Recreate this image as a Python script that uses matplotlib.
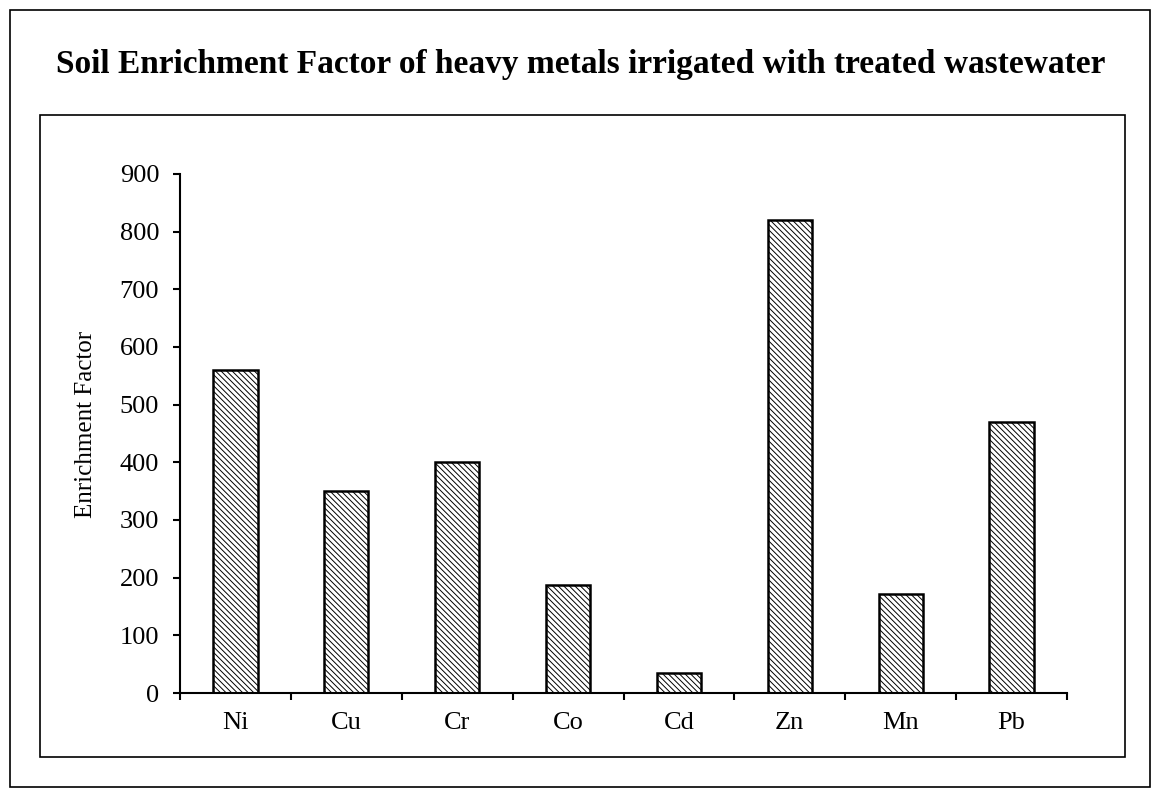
import matplotlib
matplotlib.use("Agg")
import matplotlib.pyplot as plt
from matplotlib.patches import Rectangle
import numpy as np

# enrichment factor per metal
metals = ["Ni", "Cu", "Cr", "Co", "Cd", "Zn", "Mn", "Pb"]
ef = [560, 350, 400, 188, 35, 820, 172, 470]

plt.rcParams["font.family"] = ["Liberation Serif", "DejaVu Serif"]
plt.rcParams["hatch.linewidth"] = 0.7

fig = plt.figure(figsize=(11.6, 7.97), dpi=100)
W, H = 1160, 797

# outer frame and inner plot frame
fig.patches.append(Rectangle((10 / W, 1 - 787 / H), 1140 / W, 777 / H,
                             transform=fig.transFigure, fill=False, lw=1.2, ec="black"))
fig.patches.append(Rectangle((40 / W, 1 - 757 / H), 1085 / W, 642 / H,
                             transform=fig.transFigure, fill=False, lw=1.2, ec="black"))

fig.text(581 / W, 1 - 65 / H,
         "Soil Enrichment Factor of heavy metals irrigated with treated wastewater",
         ha="center", va="center", fontsize=24, fontweight="bold")

ax = fig.add_axes([180 / W, 1 - 693 / H, 887 / W, 519 / H])
x = np.arange(len(metals))
ax.bar(x, ef, width=0.4, color="white", edgecolor="black", lw=1.8, hatch="\\\\\\\\\\\\")

ax.set_xlim(-0.5, len(metals) - 0.5)
ax.set_ylim(0, 900)
ax.set_yticks(np.arange(0, 901, 100))
ax.set_xticks(x)
ax.set_xticklabels(metals)
ax.set_xticks(np.arange(-0.5, len(metals), 1), minor=True)
ax.tick_params(axis="x", which="major", length=0, pad=14, labelsize=19)
ax.tick_params(axis="x", which="minor", length=5, width=1.5, direction="out")
ax.tick_params(axis="y", length=5, width=1.5, direction="out", labelsize=19, pad=10)
ax.spines["top"].set_visible(False)
ax.spines["right"].set_visible(False)
ax.spines["left"].set_linewidth(1.5)
ax.spines["bottom"].set_linewidth(1.5)
ax.set_ylabel("Enrichment Factor", fontsize=18)
ax.yaxis.set_label_coords(-0.094, 0.518)

fig.savefig("out.png", dpi=100)
